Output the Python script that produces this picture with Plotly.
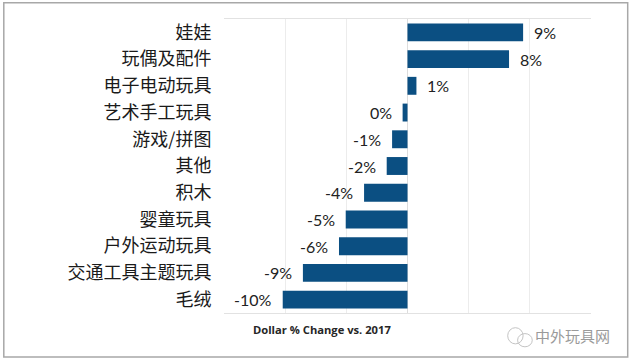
import plotly.graph_objects as go

categories = ["娃娃", "玩偶及配件", "电子电动玩具", "艺术手工玩具", "游戏/拼图", "其他", "积木",
              "婴童玩具", "户外运动玩具", "交通工具主题玩具", "毛绒"]
values = [9.45, 8.3, 0.73, -0.4, -1.26, -1.7, -3.55, -5.05, -5.6, -8.55, -10.2]
value_labels = ["9%", "8%", "1%", "0%", "-1%", "-2%", "-4%", "-5%", "-6%", "-9%", "-10%"]
x_ticks = [-15, -10, -5, 0, 5, 10, 15]
axis_title = "Dollar % Change vs. 2017"
watermark = "中外玩具网"

CJK = "Noto Sans CJK SC"
fig = go.Figure(go.Bar(
    y=categories, x=values, orientation="h",
    marker=dict(color="#0B4F82", line_width=0),
    hoverinfo="skip",
))
annotations = [
    dict(text=lab, x=v, y=c, xref="x", yref="y", showarrow=False,
         xanchor="left" if v > 0 else "right", xshift=9 if v > 0 else -9,
         font=dict(family="Lato", size=16, color="#222222"))
    for c, v, lab in zip(categories, values, value_labels)
]
annotations += [
    dict(text=f"<b>{axis_title}</b>", xref="paper", yref="paper", x=0.074, y=-0.024,
         xanchor="left", yanchor="top", showarrow=False,
         font=dict(family="Open Sans", size=11.2, color="#262626")),
    dict(text=watermark, xref="paper", yref="paper", x=1.056, y=-0.035,
         xanchor="right", yanchor="top", showarrow=False,
         font=dict(family=CJK, size=15, color="#9A9A9A")),
]
fig.update_layout(
    width=632, height=361,
    margin=dict(l=224, r=40.5, t=19, b=48, pad=0),
    paper_bgcolor="white", plot_bgcolor="white",
    bargap=0.33, showlegend=False,
    xaxis=dict(range=[-15, 15], tickvals=x_ticks, showticklabels=False,
               showgrid=True, gridcolor="#ECECEC", gridwidth=1,
               zeroline=True, zerolinecolor="#DDDDDD", zerolinewidth=1,
               showline=True, linecolor="#E2E2E2", mirror=True, ticks=""),
    yaxis=dict(autorange="reversed", type="category", showline=False, ticks="outside",
               ticklen=8, tickcolor="rgba(0,0,0,0)",
               tickfont=dict(family=CJK, size=18, color="#1A1A1A")),
    annotations=annotations,
    shapes=[
        dict(type="rect", xref="paper", yref="paper", x0=-0.6, x1=1.1, y0=-0.15, y1=1.055,
             line=dict(color="#A8A8A8", width=1.5), fillcolor="rgba(0,0,0,0)", layer="above"),
        dict(type="circle", xref="paper", yref="paper", x0=0.773, x1=0.815, y0=-0.105, y1=-0.05,
             line=dict(color="#C4C4C4", width=1), layer="above"),
        dict(type="circle", xref="paper", yref="paper", x0=0.80, x1=0.84, y0=-0.115, y1=-0.07,
             line=dict(color="#C4C4C4", width=1), layer="above"),
    ],
)
fig.write_html("out.html", config={"displayModeBar": False},
               post_script="document.body.style.margin='0';document.documentElement.style.overflow='hidden';")
